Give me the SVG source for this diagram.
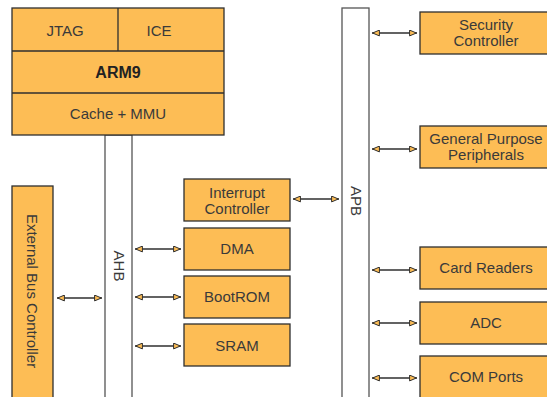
<svg xmlns="http://www.w3.org/2000/svg" width="547" height="397" viewBox="0 0 547 397">
<defs>
<style>
.box{fill:#FDBD55;stroke:#2f2f2f;stroke-width:1.3}
.bus{fill:#ffffff;stroke:#555;stroke-width:1.3}
.t{font-family:"Liberation Sans",Arial,sans-serif;font-size:15px;fill:#3a3a3a;text-anchor:middle}
.b{font-weight:bold;fill:#222;font-size:16px}
.c{stroke:#2f2f2f;stroke-width:1.3;fill:none;marker-start:url(#ah);marker-end:url(#ah)}
</style>
<marker id="ah" viewBox="0 0 8 7" refX="8" refY="3.5" markerWidth="8" markerHeight="7" markerUnits="userSpaceOnUse" orient="auto-start-reverse">
<path d="M0.6,0.6 L7.4,3.5 L0.6,6.4 Z" fill="#FDBD55" stroke="#2f2f2f" stroke-width="1"/>
</marker>
</defs>
<rect width="547" height="397" fill="#ffffff"/>
<g id="ahb">
<rect class="bus" x="105" y="135" width="27" height="270"/>
<text class="t" transform="translate(114,266) rotate(90)">AHB</text>
</g>
<g id="apb">
<rect class="bus" x="342" y="8" width="27" height="397"/>
<text class="t" transform="translate(351,201) rotate(90)">APB</text>
</g>
<g id="arm9">
<rect class="box" x="12" y="8" width="212" height="127"/>
<line x1="12" y1="51" x2="224" y2="51" stroke="#2f2f2f" stroke-width="1.3"/>
<line x1="12" y1="93" x2="224" y2="93" stroke="#2f2f2f" stroke-width="1.3"/>
<line x1="118" y1="8" x2="118" y2="51" stroke="#2f2f2f" stroke-width="1.3"/>
<text class="t" x="65" y="36">JTAG</text>
<text class="t" x="159" y="36">ICE</text>
<text class="t b" x="118" y="78">ARM9</text>
<text class="t" x="118" y="119">Cache + MMU</text>
</g>
<g id="ext-bus">
<rect class="box" x="12" y="186" width="41" height="220"/>
<text class="t" transform="translate(27,291) rotate(90)">External Bus Controller</text>
</g>
<g id="interrupt">
<rect class="box" x="184" y="179" width="106" height="42"/>
<text class="t" x="237" y="198">Interrupt</text>
<text class="t" x="237" y="214">Controller</text>
</g>
<g id="dma">
<rect class="box" x="184" y="228" width="106" height="42"/>
<text class="t" x="237" y="254">DMA</text>
</g>
<g id="bootrom">
<rect class="box" x="184" y="276" width="106" height="42"/>
<text class="t" x="237" y="302">BootROM</text>
</g>
<g id="sram">
<rect class="box" x="184" y="324" width="106" height="42"/>
<text class="t" x="237" y="351">SRAM</text>
</g>
<g id="security">
<rect class="box" x="420" y="12" width="140" height="42"/>
<text class="t" x="486" y="30">Security</text>
<text class="t" x="486" y="46">Controller</text>
</g>
<g id="gpp">
<rect class="box" x="420" y="126" width="140" height="42"/>
<text class="t" x="486" y="144">General Purpose</text>
<text class="t" x="486" y="160">Peripherals</text>
</g>
<g id="card">
<rect class="box" x="420" y="247" width="140" height="42"/>
<text class="t" x="486" y="273">Card Readers</text>
</g>
<g id="adc">
<rect class="box" x="420" y="302" width="140" height="42"/>
<text class="t" x="486" y="328">ADC</text>
</g>
<g id="com">
<rect class="box" x="420" y="356" width="140" height="50"/>
<text class="t" x="486" y="382">COM Ports</text>
</g>
<g id="connectors">
<line class="c" x1="372" y1="33" x2="417" y2="33"/>
<line class="c" x1="372" y1="149" x2="417" y2="149"/>
<line class="c" x1="372" y1="270" x2="417" y2="270"/>
<line class="c" x1="372" y1="323" x2="417" y2="323"/>
<line class="c" x1="372" y1="378" x2="417" y2="378"/>
<line class="c" x1="293" y1="199" x2="339" y2="199"/>
<line class="c" x1="135" y1="249" x2="181" y2="249"/>
<line class="c" x1="135" y1="297" x2="181" y2="297"/>
<line class="c" x1="135" y1="346" x2="181" y2="346"/>
<line class="c" x1="57" y1="298" x2="102" y2="298"/>
</g>
</svg>
